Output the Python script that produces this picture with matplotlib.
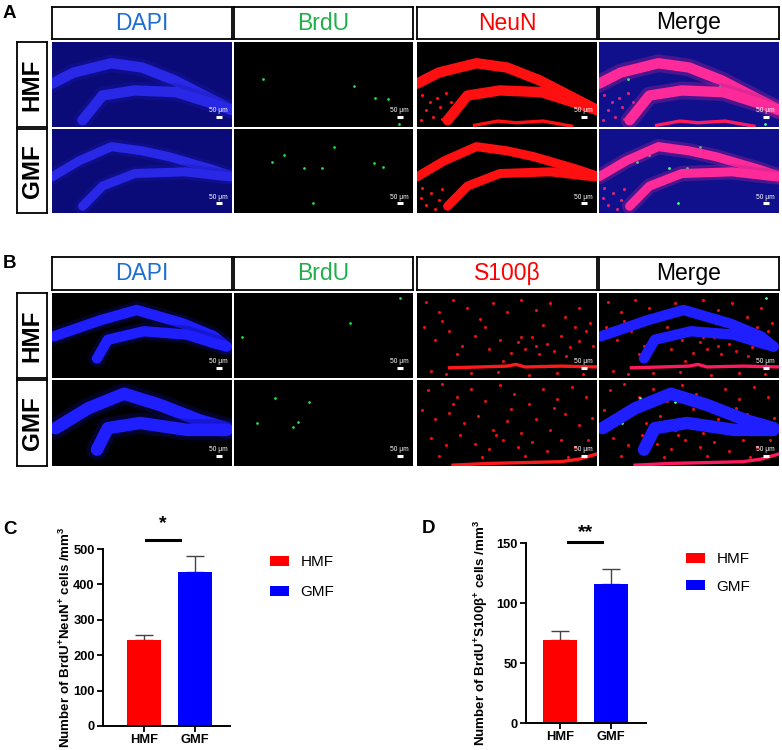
"""
Figure - BrdU co-labelling with NeuN (A, C) and S100b (B, D) in the
dentate gyrus of HMF and GMF mice.

The tissue panels are schematic: the granule-cell layer is drawn as two
thick bands, labelled cells as dots. Panels C and D are the cell counts.
"""

import matplotlib.pyplot as plt
import numpy as np

plt.rcParams["font.family"] = ["Liberation Sans", "DejaVu Sans"]
plt.rcParams["mathtext.fontset"] = "custom"
plt.rcParams["mathtext.rm"] = "Liberation Sans"
plt.rcParams["mathtext.bf"] = "Liberation Sans:bold"

W, H = 782, 750

# Counts (mean, SEM) per group
GROUPS = ["HMF", "GMF"]
BAR_COLORS = ["#ff0000", "#0000ff"]
NEUN_MEAN = [242, 435]
NEUN_SEM = [14, 46]
S100_MEAN = [69, 115.5]
S100_SEM = [8, 12.5]
NEUN_TICKS = [0, 100, 200, 300, 400, 500]
S100_TICKS = [0, 50, 100, 150]

CHANNELS_A = ["DAPI", "BrdU", "NeuN", "Merge"]
CHANNELS_B = ["DAPI", "BrdU", "S100β", "Merge"]
CHANNEL_COLORS = {"DAPI": "#1f6fd2", "BrdU": "#20b04a", "NeuN": "#ff0000",
                  "S100β": "#ff0000", "Merge": "#000000"}

# Granule-cell layer outlines (panel fractions, y from top)
A_HMF_UPPER_X = [0.0, 0.12, 0.33, 0.50, 0.68, 0.90, 1.0]
A_HMF_UPPER_Y = [0.49, 0.36, 0.25, 0.30, 0.45, 0.69, 0.80]
A_HMF_LOWER_X = [0.17, 0.28, 0.46, 0.69, 0.90, 1.0]
A_HMF_LOWER_Y = [0.92, 0.63, 0.57, 0.59, 0.73, 0.80]
A_GMF_UPPER_X = [0.0, 0.15, 0.33, 0.50, 0.65, 0.89, 1.0]
A_GMF_UPPER_Y = [0.57, 0.38, 0.21, 0.26, 0.33, 0.48, 0.56]
A_GMF_LOWER_X = [0.17, 0.28, 0.46, 0.74, 0.94, 1.0]
A_GMF_LOWER_Y = [0.92, 0.68, 0.53, 0.51, 0.56, 0.57]

B_HMF_UPPER_X = [0.01, 0.27, 0.47, 0.73, 0.90, 0.97]
B_HMF_UPPER_Y = [0.51, 0.32, 0.20, 0.36, 0.51, 0.63]
B_HMF_LOWER_X = [0.25, 0.31, 0.51, 0.75, 0.90, 0.97]
B_HMF_LOWER_Y = [0.77, 0.55, 0.45, 0.49, 0.59, 0.63]
B_GMF_UPPER_X = [0.02, 0.20, 0.40, 0.60, 0.82, 0.97]
B_GMF_UPPER_Y = [0.56, 0.33, 0.16, 0.29, 0.47, 0.56]
B_GMF_LOWER_X = [0.25, 0.31, 0.49, 0.75, 0.97]
B_GMF_LOWER_Y = [0.81, 0.56, 0.50, 0.58, 0.58]

# BrdU+ nuclei (panel fractions)
A_HMF_BRDU_X = [0.16, 0.67, 0.79, 0.86, 0.92]
A_HMF_BRDU_Y = [0.44, 0.52, 0.66, 0.67, 0.96]
A_GMF_BRDU_X = [0.21, 0.28, 0.39, 0.49, 0.56, 0.78, 0.83, 0.44]
A_GMF_BRDU_Y = [0.39, 0.31, 0.46, 0.46, 0.21, 0.41, 0.45, 0.88]
B_HMF_BRDU_X = [0.045, 0.65, 0.93]
B_HMF_BRDU_Y = [0.52, 0.35, 0.06]
B_GMF_BRDU_X = [0.13, 0.23, 0.42, 0.36, 0.33]
B_GMF_BRDU_Y = [0.50, 0.21, 0.26, 0.49, 0.55]

# Hilar NeuN+ cells
A_HMF_HILUS_X = [0.03, 0.07, 0.11, 0.05, 0.13, 0.09, 0.16, 0.02, 0.14, 0.19]
A_HMF_HILUS_Y = [0.62, 0.70, 0.66, 0.80, 0.76, 0.88, 0.60, 0.92, 0.90, 0.70]
A_GMF_HILUS_X = [0.03, 0.08, 0.12, 0.05, 0.10, 0.02, 0.14]
A_GMF_HILUS_Y = [0.70, 0.76, 0.84, 0.90, 0.95, 0.82, 0.72]

# S100b+ astrocytes
B_HMF_S100_X = [0.05, 0.12, 0.20, 0.28, 0.35, 0.42, 0.50, 0.58, 0.66, 0.74,
                0.82, 0.90, 0.96, 0.04, 0.10, 0.18, 0.25, 0.32, 0.40, 0.46,
                0.52, 0.56, 0.60, 0.64, 0.68, 0.72, 0.76, 0.80, 0.85, 0.90,
                0.94, 0.98, 0.08, 0.16, 0.30, 0.45, 0.62, 0.78, 0.92, 0.14,
                0.38, 0.70, 0.88, 0.22, 0.48, 0.58, 0.66, 0.83]
B_HMF_S100_Y = [0.10, 0.22, 0.08, 0.18, 0.30, 0.12, 0.22, 0.08, 0.20, 0.12,
                0.28, 0.18, 0.35, 0.40, 0.55, 0.45, 0.62, 0.50, 0.66, 0.55,
                0.70, 0.58, 0.66, 0.52, 0.72, 0.60, 0.68, 0.50, 0.64, 0.56,
                0.45, 0.62, 0.92, 0.95, 0.94, 0.93, 0.96, 0.94, 0.95, 0.33,
                0.40, 0.38, 0.40, 0.72, 0.80, 0.52, 0.62, 0.74]
B_GMF_S100_X = [0.06, 0.14, 0.22, 0.30, 0.38, 0.46, 0.54, 0.62, 0.70, 0.78,
                0.86, 0.94, 0.03, 0.10, 0.18, 0.26, 0.34, 0.42, 0.50, 0.58,
                0.66, 0.74, 0.82, 0.90, 0.97, 0.08, 0.16, 0.24, 0.32, 0.40,
                0.48, 0.56, 0.64, 0.72, 0.80, 0.88, 0.95, 0.12, 0.36, 0.60,
                0.84, 0.20, 0.52, 0.76, 0.44]
B_GMF_S100_Y = [0.12, 0.05, 0.20, 0.10, 0.24, 0.06, 0.16, 0.28, 0.10, 0.22,
                0.08, 0.20, 0.35, 0.45, 0.38, 0.50, 0.42, 0.58, 0.48, 0.62,
                0.45, 0.58, 0.40, 0.52, 0.44, 0.68, 0.76, 0.64, 0.74, 0.80,
                0.70, 0.78, 0.72, 0.82, 0.70, 0.78, 0.70, 0.88, 0.90, 0.88,
                0.90, 0.28, 0.34, 0.32, 0.64]

# Blood vessels / meninges at the bottom of the sections
A_HMF_VESSEL_X = [0.32, 0.45, 0.55, 0.70, 0.86]
A_HMF_VESSEL_Y = [0.98, 0.93, 0.95, 0.93, 0.99]
B_HMF_VESSEL_X = [0.18, 0.35, 0.50, 0.55, 0.60, 0.80, 1.0]
B_HMF_VESSEL_Y = [0.88, 0.87, 0.86, 0.84, 0.87, 0.86, 0.87]
B_GMF_VESSEL_X = [0.20, 0.40, 0.60, 0.80, 0.90, 1.0]
B_GMF_VESSEL_Y = [0.99, 0.97, 0.96, 0.95, 0.92, 0.86]

# Panel geometry in figure pixels
COLUMNS = [(52, 232), (234, 413), (417, 597), (599, 779)]
BLOCK_A = {"header": (7, 39), "rows": [(42, 127), (129, 213)]}
BLOCK_B = {"header": (257, 290), "rows": [(293, 378), (380, 466)]}
ROW_LABEL_X = (17, 47)


def px_axes(fig, x0, y0, x1, y1):
    return fig.add_axes([x0 / W, 1 - y1 / H, (x1 - x0) / W, (y1 - y0) / H])


def boxed_text(fig, rect, text, color, **kw):
    ax = px_axes(fig, *rect)
    ax.set_xticks([])
    ax.set_yticks([])
    for s in ax.spines.values():
        s.set_linewidth(1.3)
    ax.text(0.5, 0.5, text, color=color, ha="center", va="center",
            transform=ax.transAxes, **kw)


def tissue_axes(fig, rect, bg):
    ax = px_axes(fig, *rect)
    ax.set_facecolor(bg)
    ax.set_xlim(0, 1)
    ax.set_ylim(1, 0)
    ax.set_xticks([])
    ax.set_yticks([])
    for s in ax.spines.values():
        s.set_visible(False)
    return ax


def draw_bands(ax, bands, color, lw, glow=None):
    for bx, by in bands:
        if glow:
            ax.plot(bx, by, color=glow, lw=lw * 1.7, alpha=0.35,
                    solid_capstyle="round", solid_joinstyle="round")
        ax.plot(bx, by, color=color, lw=lw, solid_capstyle="round",
                solid_joinstyle="round")


def scale_bar(ax):
    ax.text(0.925, 0.81, "50 μm", color="white", fontsize=4.8,
            ha="center", va="center")
    ax.plot([0.91, 0.945], [0.885, 0.885], color="white", lw=2.2,
            solid_capstyle="butt")


def draw_block(fig, block, channels, rows):
    y0, y1 = block["header"]
    for (x0, x1), ch in zip(COLUMNS, channels):
        boxed_text(fig, (x0, y0, x1, y1), ch, CHANNEL_COLORS[ch], fontsize=16.5)

    for (ry0, ry1), row in zip(block["rows"], rows):
        boxed_text(fig, (ROW_LABEL_X[0], ry0, ROW_LABEL_X[1], ry1),
                   row["name"], "black", fontsize=17.5, fontweight="bold",
                   rotation=90)
        for (x0, x1), ch in zip(COLUMNS, channels):
            style = row["style"][ch]
            ax = tissue_axes(fig, (x0, ry0, x1, ry1), style["bg"])
            if "bands" in style:
                draw_bands(ax, row["bands"], style["bands"], row["lw"],
                           style.get("glow"))
            if "speckle" in style:
                sx, sy = row["speckle"]
                ax.scatter(sx, sy, s=5, color=style["speckle"], lw=0)
            if "vessel" in style and row.get("vessel"):
                vx, vy = row["vessel"]
                ax.plot(vx, vy, color=style["vessel"], lw=2.4)
            if "brdu" in style:
                bx, by = row["brdu"]
                ax.scatter(bx, by, s=4, color=style["brdu"], lw=0)
            scale_bar(ax)


def draw_bars(fig, rect, means, sems, ticks, ylabel, sig_x, sig_y, star_y,
              stars, label_x, legend_xy, legend_spacing):
    ax = px_axes(fig, *rect)
    x = np.arange(len(GROUPS))
    bars = ax.bar(x, means, width=0.67, color=BAR_COLORS, zorder=2)
    ax.errorbar(x, means, yerr=[np.zeros(len(x)), sems], fmt="none",
                ecolor="#444444", elinewidth=1, capsize=6.5, capthick=1,
                zorder=1)
    # 51 px between bar centres in both panels
    span = rect[2] - rect[0]
    ax.set_xlim(-label_x[1], -label_x[1] + span / 51)
    ax.set_ylim(0, ticks[-1])
    ax.set_yticks(ticks)
    ax.set_xticks(x)
    ax.set_xticklabels(GROUPS)
    for s in ["top", "right"]:
        ax.spines[s].set_visible(False)
    for s in ["left", "bottom"]:
        ax.spines[s].set_linewidth(1.4)
    ax.tick_params(length=4, width=1.3, labelsize=9.3, pad=2)
    for t in ax.get_xticklabels() + ax.get_yticklabels():
        t.set_fontweight("bold")
    ax.set_ylabel(ylabel, fontsize=9.6, fontweight="bold")
    ax.yaxis.set_label_coords(label_x[0], 0.5)

    ax.plot(sig_x, [sig_y, sig_y], color="black", lw=2.2, clip_on=False)
    ax.text(np.mean(sig_x), star_y, stars, ha="center", va="center",
            fontsize=14, fontweight="bold", clip_on=False)

    ax.legend(bars, GROUPS, loc="upper left",
              bbox_to_anchor=(legend_xy[0] / W, 1 - legend_xy[1] / H),
              bbox_transform=fig.transFigure, frameon=False, fontsize=11,
              handlelength=1.25, handleheight=0.65, handletextpad=0.75,
              labelspacing=legend_spacing, borderpad=0, borderaxespad=0)
    return ax


def main():
    fig = plt.figure(figsize=(W / 100, H / 100), dpi=100)

    a_styles = {
        "DAPI": {"bg": "#0a0a78", "bands": "#2828e6", "glow": "#1818b0"},
        "BrdU": {"bg": "black", "brdu": "#22dd44"},
        "NeuN": {"bg": "black", "bands": "#ff1010", "speckle": "#ff1010",
                 "vessel": "#ff1010"},
        "Merge": {"bg": "#10108c", "bands": "#ff2a9a", "glow": "#b02090",
                  "speckle": "#e0207a", "vessel": "#ff1a60",
                  "brdu": "#44ff88"},
    }
    rows_a = [
        {"name": "HMF", "lw": 7.5, "style": a_styles,
         "bands": [(A_HMF_UPPER_X, A_HMF_UPPER_Y),
                   (A_HMF_LOWER_X, A_HMF_LOWER_Y)],
         "brdu": (A_HMF_BRDU_X, A_HMF_BRDU_Y),
         "speckle": (A_HMF_HILUS_X, A_HMF_HILUS_Y),
         "vessel": (A_HMF_VESSEL_X, A_HMF_VESSEL_Y)},
        {"name": "GMF", "lw": 6.5, "style": a_styles,
         "bands": [(A_GMF_UPPER_X, A_GMF_UPPER_Y),
                   (A_GMF_LOWER_X, A_GMF_LOWER_Y)],
         "brdu": (A_GMF_BRDU_X, A_GMF_BRDU_Y),
         "speckle": (A_GMF_HILUS_X, A_GMF_HILUS_Y)},
    ]

    b_styles = {
        "DAPI": {"bg": "black", "bands": "#1e1eff", "glow": "#0a0a80"},
        "BrdU": {"bg": "black", "brdu": "#22dd44"},
        "S100β": {"bg": "black", "speckle": "#e81010", "vessel": "#ff1a1a"},
        "Merge": {"bg": "black", "speckle": "#e81010", "vessel": "#ff1a60",
                  "bands": "#1e1eff", "brdu": "#44ff88"},
    }
    rows_b = [
        {"name": "HMF", "lw": 7.5, "style": b_styles,
         "bands": [(B_HMF_UPPER_X, B_HMF_UPPER_Y),
                   (B_HMF_LOWER_X, B_HMF_LOWER_Y)],
         "brdu": (B_HMF_BRDU_X, B_HMF_BRDU_Y),
         "speckle": (B_HMF_S100_X, B_HMF_S100_Y),
         "vessel": (B_HMF_VESSEL_X, B_HMF_VESSEL_Y)},
        {"name": "GMF", "lw": 9, "style": b_styles,
         "bands": [(B_GMF_UPPER_X, B_GMF_UPPER_Y),
                   (B_GMF_LOWER_X, B_GMF_LOWER_Y)],
         "brdu": (B_GMF_BRDU_X, B_GMF_BRDU_Y),
         "speckle": (B_GMF_S100_X, B_GMF_S100_Y),
         "vessel": (B_GMF_VESSEL_X, B_GMF_VESSEL_Y)},
    ]

    draw_block(fig, BLOCK_A, CHANNELS_A, rows_a)
    draw_block(fig, BLOCK_B, CHANNELS_B, rows_b)

    # label_x = (y-label x in axes coords, left margin in bar-spacing units)
    draw_bars(fig, (103, 549, 230, 726), NEUN_MEAN, NEUN_SEM, NEUN_TICKS,
              r"Number of BrdU$^{\mathbf{+}}$NeuN$^{\mathbf{+}}$ cells /mm$^{\mathbf{3}}$",
              [0.04, 0.71], 525, 572, "*", (-0.24, 0.80), (270, 555), 1.05)
    draw_bars(fig, (526, 543, 646, 723), S100_MEAN, S100_SEM, S100_TICKS,
              r"Number of BrdU$^{\mathbf{+}}$S100β$^{\mathbf{+}}$ cells /mm$^{\mathbf{3}}$",
              [0.16, 0.82], 150.5, 158.5, "**", (-0.30, 0.67), (686, 552), 0.9)

    for letter, (lx, ly) in {"A": (3, 5), "B": (3, 255), "C": (3, 521),
                             "D": (422, 520)}.items():
        fig.text(lx / W, 1 - ly / H, letter, fontsize=13.5, fontweight="bold",
                 ha="left", va="top")

    fig.savefig("out.png", dpi=100)


if __name__ == "__main__":
    main()
